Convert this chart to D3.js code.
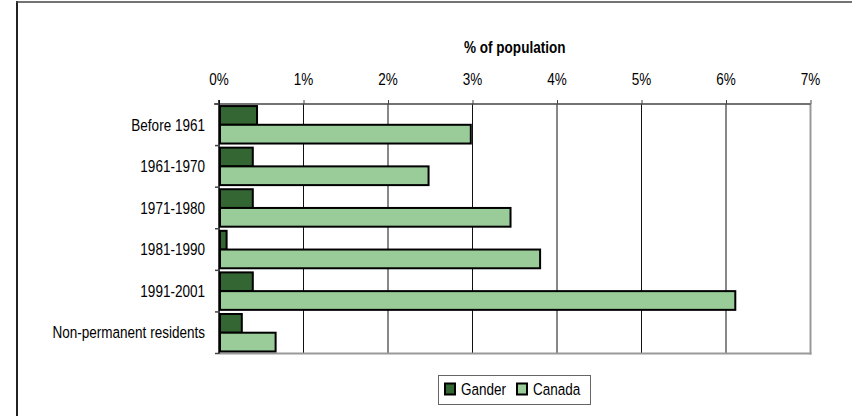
<!DOCTYPE html>
<html><head><meta charset="utf-8">
<script src="https://cdn.jsdelivr.net/npm/d3@7"></script>
<style>
body{margin:0;background:#fff;}
svg text{font-family:"Liberation Sans Narrow","Liberation Sans",Arial,sans-serif;fill:#000;}
</style></head>
<body><svg id="c" width="852" height="416"></svg>
<script>
const categories = ["Before 1961","1961-1970","1971-1980","1981-1990","1991-2001","Non-permanent residents"];
const gander = [0.45,0.40,0.40,0.09,0.40,0.27];
const canada = [2.98,2.48,3.45,3.80,6.11,0.67];
const seriesNames = ["Gander","Canada"];
const tickValues = [0,1,2,3,4,5,6,7];
const axisTitle = "% of population";

const colors = ["#336633","#99CC99"];
const FS = 16.5, SX = 0.82;
const svg = d3.select("#c");

function label(parent, x, y, txt, anchor, opts={}) {
  const t = parent.append("text")
    .attr("transform", `translate(${x},${y}) scale(${SX},1)`)
    .attr("text-anchor", anchor).attr("dy","0.35em")
    .attr("font-size", opts.size || FS).text(txt);
  if (opts.bold) t.attr("font-weight","bold");
  return t;
}

// outer frame
svg.append("line").attr("x1",17).attr("x2",17).attr("y1",1).attr("y2",416).attr("stroke","#222").attr("stroke-width",2);
svg.append("line").attr("x1",16).attr("x2",852).attr("y1",2).attr("y2",2).attr("stroke","#444").attr("stroke-width",1.5);

const L=219,R=810.5,T=104,B=353.5;
const x = d3.scaleLinear().domain([0,7]).range([L,R]);
const y = d3.scaleBand().domain(categories).range([T,B]).paddingInner(0).paddingOuter(0);
const inner = d3.scaleBand().domain(seriesNames).range([0,y.bandwidth()]).paddingInner(0).paddingOuter(0.11);

// gridlines
svg.append("g").selectAll("line").data(tickValues.slice(1,-1)).join("line")
 .attr("x1",d=>x(d)).attr("x2",d=>x(d)).attr("y1",T).attr("y2",B).attr("stroke","#111").attr("stroke-width",1);

// plot border right & bottom
svg.append("line").attr("x1",R).attr("x2",R).attr("y1",T).attr("y2",B+1).attr("stroke","#999").attr("stroke-width",2);
svg.append("line").attr("x1",L).attr("x2",R+1).attr("y1",B).attr("y2",B).attr("stroke","#999").attr("stroke-width",2);

// top axis
const xAxis = d3.axisTop(x).tickValues(tickValues).tickFormat("").tickSize(4);
const gx = svg.append("g").attr("transform",`translate(0,${T})`).call(xAxis);
gx.select(".domain").attr("stroke","#444").attr("stroke-width",1.5).attr("d",`M${L-5},0H${R}`);
gx.selectAll(".tick line").attr("stroke","#444");
const tl = svg.append("g");
tickValues.forEach(v=>label(tl, x(v), 79, v+"%", "middle"));

// axis title
label(svg, (L+R)/2, 47, axisTitle, "middle", {bold:true});

// left axis line
svg.append("line").attr("x1",L).attr("x2",L).attr("y1",T-4).attr("y2",B).attr("stroke","#000").attr("stroke-width",1.5);
// category ticks at boundaries
const bounds = categories.map(c=>y(c)).concat([B]);
svg.append("g").selectAll("line").data(bounds).join("line")
 .attr("x1",L-4).attr("x2",L).attr("y1",d=>d).attr("y2",d=>d).attr("stroke","#444").attr("stroke-width",1.5);

// category labels
const cl = svg.append("g");
categories.forEach(c=>label(cl, 205, y(c)+y.bandwidth()/2, c, "end"));

// bars
const rows = categories.map((c,i)=>({c,vals:[gander[i],canada[i]]}));
const g = svg.append("g");
rows.forEach(r=>{
  r.vals.forEach((v,j)=>{
    g.append("rect").attr("x",x(0)+1).attr("y",y(r.c)+inner(seriesNames[j]))
     .attr("width",Math.max(0,x(v)-x(0)-1)).attr("height",inner.bandwidth())
     .attr("fill",colors[j]).attr("stroke","#000").attr("stroke-width",2);
  });
});

// legend
const lg = svg.append("g");
lg.append("rect").attr("x",438.5).attr("y",375.5).attr("width",152).attr("height",29).attr("fill","#fff").attr("stroke","#666").attr("stroke-width",1);
const lx=[445,517];
seriesNames.forEach((s,j)=>{
  lg.append("rect").attr("x",lx[j]).attr("y",383.5).attr("width",10).attr("height",11).attr("fill",colors[j]).attr("stroke","#000").attr("stroke-width",2);
  label(lg, lx[j]+16, 389.5, s, "start");
});
</script></body></html>
